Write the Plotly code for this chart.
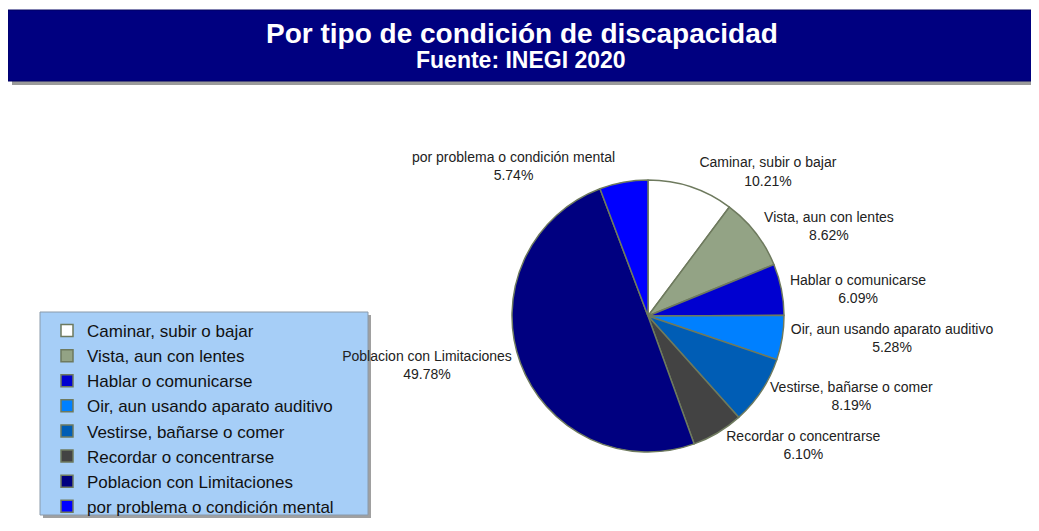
import plotly.graph_objects as go

# Datos: INEGI 2020, por tipo de condición de discapacidad
categorias = [
    "Caminar, subir o bajar",
    "Vista, aun con lentes",
    "Hablar o comunicarse",
    "Oir, aun usando aparato auditivo",
    "Vestirse, bañarse o comer",
    "Recordar o concentrarse",
    "Poblacion con Limitaciones",
    "por problema o condición mental",
]
porcentajes = [10.21, 8.62, 6.09, 5.28, 8.19, 6.10, 49.78, 5.74]
colores = ["#ffffff", "#93a385", "#0000d0", "#0080ff", "#005db5", "#434343", "#000080", "#0000ff"]

titulo = "Por tipo de condición de discapacidad"
subtitulo = "Fuente: INEGI 2020"

W, H = 1039, 531
OFF = 8  # margen por defecto del <body>
FONT = "Liberation Sans, Arial"


def px_x(x):
    return (x - OFF) / W


def px_y(y):
    return 1 - (y - OFF) / H


fig = go.Figure(go.Pie(
    labels=categorias,
    values=porcentajes,
    marker=dict(colors=colores, line=dict(color="#6e7a5e", width=1.5)),
    sort=False,
    direction="clockwise",
    textposition="outside",
    texttemplate="%{label}<br>%{value:.2f}%",
    textfont=dict(family=FONT, size=14, color="#222222"),
    domain=dict(x=[px_x(512), px_x(784)], y=[px_y(452), px_y(180)]),
    hoverinfo="label+value",
))

shapes = [
    # sombra y caja del título
    dict(type="rect", xref="paper", yref="paper",
         x0=px_x(12), x1=px_x(1037), y0=px_y(14), y1=px_y(85),
         fillcolor="#9a9a9a", line=dict(width=0), layer="below"),
    dict(type="rect", xref="paper", yref="paper",
         x0=px_x(8), x1=px_x(1033), y0=px_y(10), y1=px_y(81),
         fillcolor="#000080", line=dict(color="#000060", width=1), layer="below"),
    # sombra y caja de la leyenda
    dict(type="rect", xref="paper", yref="paper",
         x0=px_x(43), x1=px_x(371), y0=px_y(315), y1=px_y(518),
         fillcolor="#a0a0a0", line=dict(width=0), layer="below"),
    dict(type="rect", xref="paper", yref="paper",
         x0=px_x(40), x1=px_x(368), y0=px_y(312), y1=px_y(515),
         fillcolor="#a6cef7", line=dict(color="#8a9aaa", width=1), layer="below"),
]

annotations = [
    dict(text="<b>" + titulo + "</b>", x=px_x(522), y=px_y(34), xref="paper", yref="paper",
         xanchor="center", yanchor="middle", showarrow=False,
         font=dict(family=FONT, size=28, color="white")),
    dict(text="<b>" + subtitulo + "</b>", x=px_x(521), y=px_y(60), xref="paper", yref="paper",
         xanchor="center", yanchor="middle", showarrow=False,
         font=dict(family=FONT, size=23, color="white")),
]

fig.update_layout(
    width=W, height=H,
    margin=dict(l=0, r=0, t=0, b=0),
    paper_bgcolor="white",
    plot_bgcolor="white",
    shapes=shapes,
    annotations=annotations,
    showlegend=True,
    legend=dict(
        x=px_x(47), y=px_y(313), xanchor="left", yanchor="top",
        bgcolor="rgba(0,0,0,0)",
        font=dict(family=FONT, size=17, color="#111111"),
        tracegroupgap=0,
    ),
)

fig.write_html("out.html")
